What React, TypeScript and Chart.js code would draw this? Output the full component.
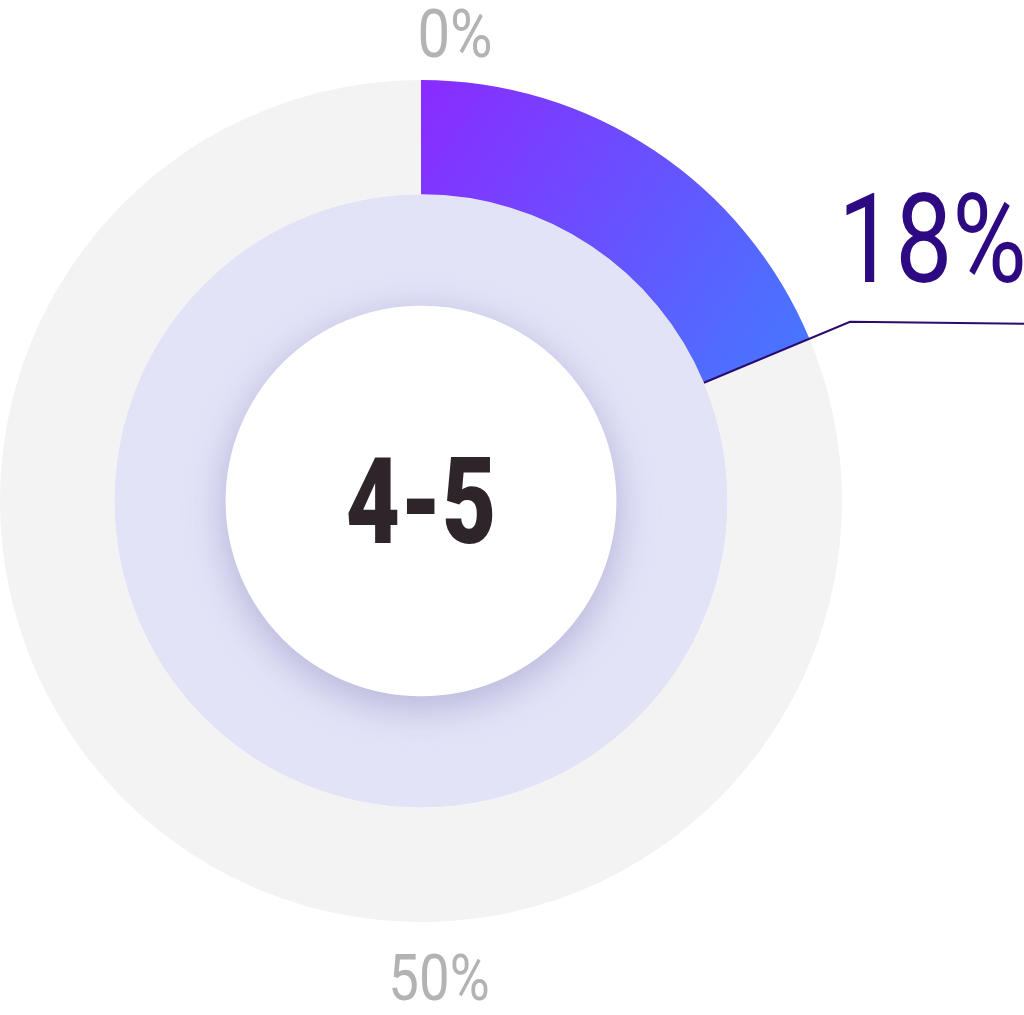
import { useEffect, useRef } from "react";
import { Chart, registerables } from "chart.js";

Chart.register(...registerables);

// values
const segmentLabels = ["4-5", "rest"];
const shareValues = [18.7, 81.3];
const innerRing = [100];
const centerLabel = "4-5";
const shareLabel = "18%";
const scaleLabels = ["0%", "50%"];

const GRAY = "#f3f3f3";
const LAVENDER = "#e3e3f8";

function drawNarrow(
  ctx: CanvasRenderingContext2D,
  text: string,
  x: number,
  y: number,
  font: string,
  color: string,
  sx: number,
  align: CanvasTextAlign
) {
  ctx.save();
  ctx.font = font;
  ctx.fillStyle = color;
  ctx.textAlign = align;
  ctx.textBaseline = "alphabetic";
  ctx.translate(x, y);
  ctx.scale(sx, 1);
  ctx.fillText(text, 0, 0);
  ctx.restore();
}

const decorPlugin = {
  id: "decor",
  afterDatasetsDraw(chart: Chart) {
    const ctx = chart.ctx;
    const outer = chart.getDatasetMeta(0).data[0] as any;
    const inner = chart.getDatasetMeta(1).data[0] as any;
    const cx = outer.x;
    const cy = outer.y;

    // white centre disc with soft shadow
    ctx.save();
    ctx.shadowColor = "rgba(120, 120, 175, 0.45)";
    ctx.shadowBlur = 40;
    ctx.shadowOffsetY = 10;
    ctx.fillStyle = "#ffffff";
    ctx.beginPath();
    ctx.arc(cx, cy, inner.innerRadius, 0, Math.PI * 2);
    ctx.fill();
    ctx.restore();

    // leader line along the segment's end edge
    const a = outer.endAngle;
    const r0 = outer.innerRadius;
    const r1 = outer.outerRadius + 44;
    const x0 = cx + Math.cos(a) * r0;
    const y0 = cy + Math.sin(a) * r0;
    const x1 = cx + Math.cos(a) * r1;
    const y1 = cy + Math.sin(a) * r1;
    ctx.save();
    ctx.strokeStyle = "#2b0a6e";
    ctx.lineWidth = 2;
    ctx.beginPath();
    ctx.moveTo(x0, y0);
    ctx.lineTo(x1, y1);
    ctx.lineTo(chart.width, y1 + 2);
    ctx.stroke();
    ctx.restore();

    // texts
    drawNarrow(ctx, shareLabel, x1 - 12, y1 - 40, "400 124px Roboto", "#2d0a82", 0.82, "left");
    drawNarrow(ctx, centerLabel, cx, cy + 42, "900 120px Roboto", "#2e252b", 0.78, "center");
    drawNarrow(ctx, scaleLabels[0], cx + 34, 57, "400 66px Roboto", "#b3b3b3", 0.88, "center");
    drawNarrow(ctx, scaleLabels[1], cx + 18, 1000, "400 65px Roboto", "#b3b3b3", 0.84, "center");
  },
};

export default function App() {
  const canvasRef = useRef<HTMLCanvasElement>(null);

  useEffect(() => {
    if (!canvasRef.current) return;
    const chart = new Chart(canvasRef.current, {
      type: "doughnut",
      data: {
        labels: segmentLabels,
        datasets: [
          {
            data: shareValues,
            backgroundColor: (c: any) => {
              const area = c.chart.chartArea;
              if (c.dataIndex !== 0) return GRAY;
              if (!area) return "#7a4cff";
              const cx = (area.left + area.right) / 2;
              const g = c.chart.ctx.createLinearGradient(cx, area.top, cx + 390, area.top + 260);
              g.addColorStop(0, "#8a2bff");
              g.addColorStop(1, "#4776ff");
              return g;
            },
            borderWidth: 0,
            weight: 114,
          },
          {
            data: innerRing,
            backgroundColor: [LAVENDER],
            borderWidth: 0,
            weight: 111,
          },
        ],
      },
      options: {
        responsive: false,
        animation: false,
        devicePixelRatio: 1,
        cutout: "46.4%",
        layout: { padding: { left: 0, top: 80, right: 182, bottom: 93 } },
        plugins: {
          legend: { display: false },
          tooltip: { enabled: false },
        },
      },
      plugins: [decorPlugin],
    });
    return () => chart.destroy();
  }, []);

  return (
    <div style={{ position: "absolute", left: 0, top: 0, width: 1024, height: 1015, background: "#fff" }}>
      <canvas ref={canvasRef} width={1024} height={1015} />
    </div>
  );
}
